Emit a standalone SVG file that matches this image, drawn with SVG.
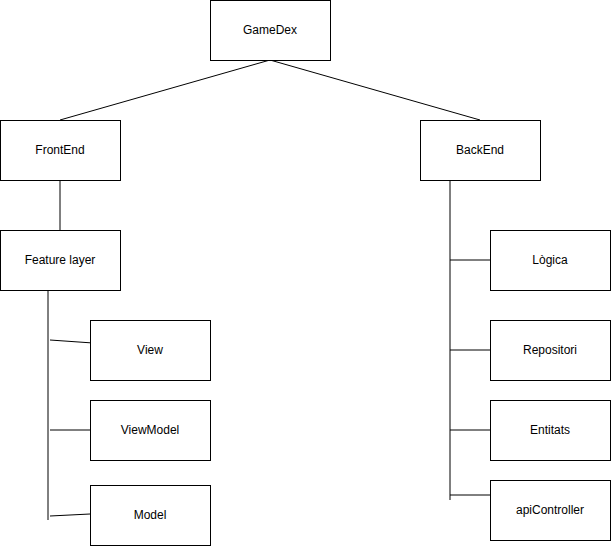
<svg xmlns="http://www.w3.org/2000/svg" width="611" height="546" viewBox="0 0 611 546">
<style>
rect{fill:#fff;stroke:#000;stroke-width:1}
text{font-family:"Liberation Sans",Arial,sans-serif;font-size:12px;text-anchor:middle;dominant-baseline:central;fill:#000}
line{stroke:#000;stroke-width:1}
</style>
<rect x="0" y="0" width="611" height="546" style="stroke:none"/>
<g id="connectors">
<line x1="270" y1="60" x2="60" y2="120"/>
<line x1="270" y1="60" x2="480" y2="120"/>
<line x1="60" y1="180" x2="60" y2="230"/>
<line x1="48" y1="290" x2="48" y2="520"/>
<line x1="50" y1="340" x2="93" y2="343"/>
<line x1="50" y1="430" x2="90" y2="430"/>
<line x1="50" y1="516" x2="90" y2="514"/>
<line x1="450" y1="180" x2="450" y2="500"/>
<line x1="450" y1="260" x2="490" y2="260"/>
<line x1="450" y1="350" x2="490" y2="350"/>
<line x1="450" y1="430" x2="490" y2="430"/>
<line x1="450" y1="495" x2="490" y2="495"/>
</g>
<g id="gamedex"><rect x="210.5" y="0.5" width="120" height="60"/><text x="270" y="30">GameDex</text></g>
<g id="frontend"><rect x="0.5" y="120.5" width="120" height="60"/><text x="60" y="150">FrontEnd</text></g>
<g id="backend"><rect x="420.5" y="120.5" width="120" height="60"/><text x="480" y="150">BackEnd</text></g>
<g id="feature"><rect x="0.5" y="230.5" width="120" height="60"/><text x="60" y="260">Feature layer</text></g>
<g id="view"><rect x="90.5" y="320.5" width="120" height="60"/><text x="150" y="350">View</text></g>
<g id="viewmodel"><rect x="90.5" y="400.5" width="120" height="60"/><text x="150" y="430">ViewModel</text></g>
<g id="model"><rect x="90.5" y="485.5" width="120" height="60"/><text x="150" y="515">Model</text></g>
<g id="logica"><rect x="490.5" y="230.5" width="120" height="60"/><text x="550" y="260">Lògica</text></g>
<g id="repositori"><rect x="490.5" y="320.5" width="120" height="60"/><text x="550" y="350">Repositori</text></g>
<g id="entitats"><rect x="490.5" y="400.5" width="120" height="60"/><text x="550" y="430">Entitats</text></g>
<g id="apicontroller"><rect x="490.5" y="480.5" width="120" height="60"/><text x="550" y="510">apiController</text></g>
</svg>
